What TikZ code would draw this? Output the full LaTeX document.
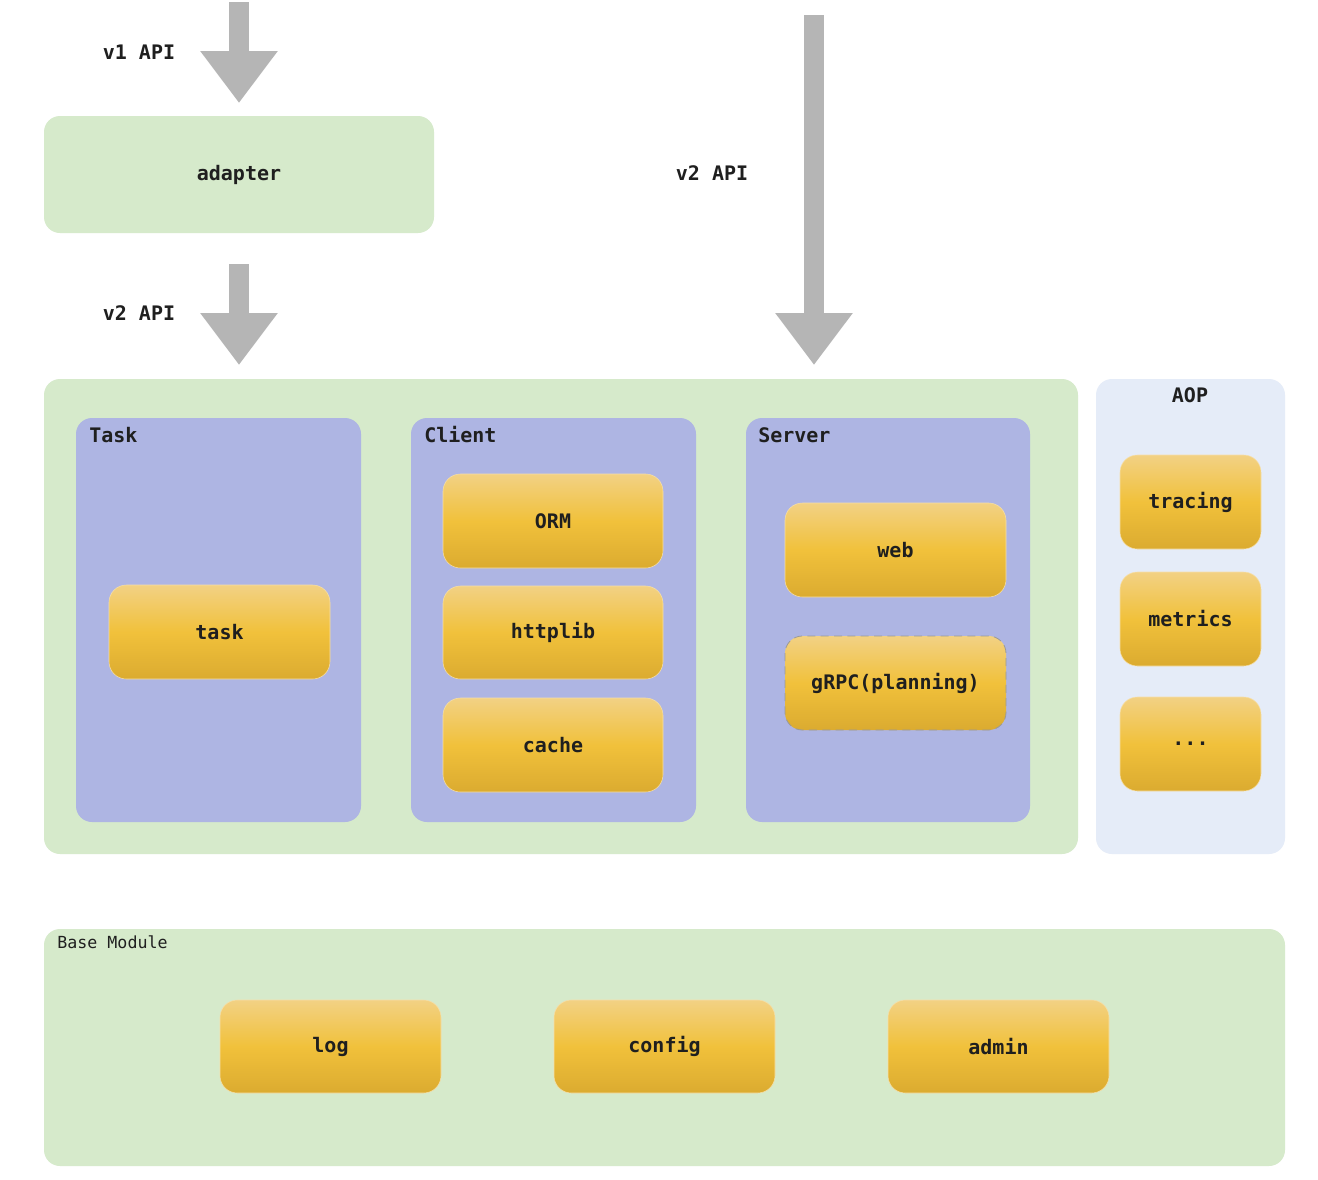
\documentclass[tikz,border=0pt]{standalone}
\usepackage{fontspec}
\setmonofont{DejaVu Sans Mono}
\usetikzlibrary{arrows.meta}
\definecolor{grn}{HTML}{D6EACB}
\definecolor{lav}{HTML}{AEB5E3}
\definecolor{aopc}{HTML}{E5ECF8}
\definecolor{ytop}{HTML}{F2D184}
\definecolor{ymid}{HTML}{F1C13B}
\definecolor{ybot}{HTML}{DBAB30}
\definecolor{arrc}{HTML}{B5B5B5}
\tikzset{
  lbl/.style={font=\fontsize{15pt}{18pt}\selectfont\ttfamily\bfseries, text=black!88},
  small/.style={font=\fontsize{12.5pt}{15pt}\selectfont\ttfamily, text=black!88},
  basebox/.style={inner sep=0pt, outer sep=0pt, rounded corners=12pt},
  grnbox/.style={basebox, fill=grn},
  lavbox/.style={basebox, fill=lav},
  aopbox/.style={basebox, fill=aopc},
  ybox/.style={basebox, rounded corners=13pt, top color=ytop, bottom color=ybot, middle color=ymid, draw=ytop!70!white, line width=0.4pt, lbl},
  dbox/.style={ybox, draw=black!40, dash pattern=on 6pt off 4pt, line width=0.6pt},
  bigarrow/.style={draw=arrc, line width=15pt, -{Triangle[length=39pt,width=55.5pt]}, arrc}
}
\newcommand\bx[7]{\node[#6, minimum width={(#4-#2)*0.75pt}, minimum height={(#5-#3)*0.75pt}] (#1) at ({(#2+#4)/2},{(#3+#5)/2}) {#7};}
\begin{document}
\begin{tikzpicture}[x=0.75pt,y=-0.75pt]
\useasboundingbox[fill=white] (0,0) rectangle (1318,1179);
% top
\bx{adapter}{44}{116}{434}{233}{grnbox, lbl}{adapter}
% main
\bx{main}{44}{379}{1078}{854}{grnbox}{}
\bx{taskp}{76}{418}{361}{822}{lavbox}{}
\bx{clientp}{411}{418}{696}{822}{lavbox}{}
\bx{serverp}{746}{418}{1030}{822}{lavbox}{}
\node[lbl, anchor=west, inner sep=0pt] (tasklbl) at (89,435) {Task};
\node[lbl, anchor=west, inner sep=0pt] (clientlbl) at (424,435) {Client};
\node[lbl, anchor=west, inner sep=0pt] (serverlbl) at (758,435) {Server};
\bx{task}{109}{585}{330}{679}{ybox}{task}
\bx{orm}{443}{474}{663}{568}{ybox}{ORM}
\bx{httplib}{443}{586}{663}{679}{ybox}{httplib}
\bx{cache}{443}{698}{663}{792}{ybox}{cache}
\bx{web}{785}{503}{1006}{597}{ybox}{web}
\bx{grpc}{785}{636}{1006}{730}{dbox}{gRPC(planning)}
% AOP
\bx{aop}{1096}{379}{1285}{854}{aopbox}{}
\node[lbl] (aoplbl) at (1190,395) {AOP};
\bx{tracing}{1120}{455}{1261}{549}{ybox}{tracing}
\bx{metrics}{1120}{572}{1261}{666}{ybox}{metrics}
\bx{more}{1120}{697}{1261}{791}{ybox}{...}
% base
\bx{base}{44}{929}{1285}{1166}{grnbox}{}
\node[small, anchor=west, inner sep=0pt] (baselbl) at (57,942) {Base Module};
\bx{log}{220}{1000}{441}{1093}{ybox}{log}
\bx{config}{554}{1000}{775}{1093}{ybox}{config}
\bx{admin}{888}{1000}{1109}{1093}{ybox}{admin}
% arrows
\coordinate (a1s) at (239,2);
\draw[bigarrow, shorten >=9.75pt] (a1s) -- (adapter.north);
\draw[bigarrow, shorten <=23.25pt, shorten >=10.5pt] (adapter.south) -- (adapter.south |- main.north);
\coordinate (a3s) at (814,15);
\coordinate (a3e) at (814,365);
\draw[bigarrow] (a3s) -- (a3e);
\node[lbl] (v1) at (139,52) {v1 API};
\node[lbl] (v2a) at (139,313) {v2 API};
\node[lbl] (v2b) at (712,173) {v2 API};
\end{tikzpicture}
\end{document}
